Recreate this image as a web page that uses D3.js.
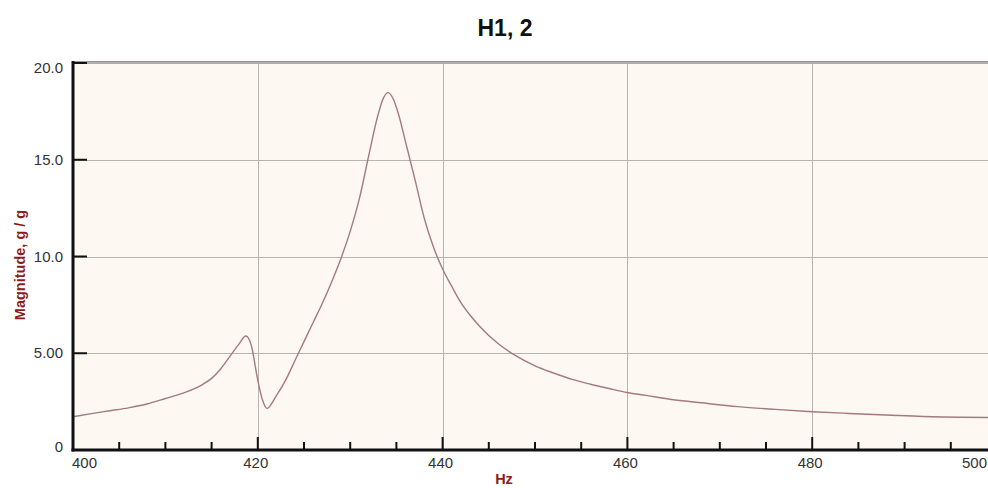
<!DOCTYPE html>
<html>
<head>
<meta charset="utf-8">
<script src="https://cdn.jsdelivr.net/npm/d3@7"></script>
<style>
  html, body { margin: 0; padding: 0; background: #ffffff; }
  svg { display: block; font-family: "Liberation Sans", Arial, sans-serif; }
</style>
</head>
<body>
<svg id="chart" width="988" height="488"></svg>
<script>
// Frequency response magnitude H1,2 (g/g) versus frequency (Hz)
const freqHz = [
  400, 402, 404, 406, 408, 410, 412, 414, 415, 416, 417, 418, 418.7, 419.3,
  420, 420.5, 421, 422, 423, 424, 425, 426, 427, 428, 429, 430, 431, 432, 433,
  433.6, 434.1, 434.7, 435.2, 436, 437, 438, 439, 440, 441, 442, 443, 444, 446,
  448, 450, 452, 454, 456, 458, 460, 462, 465, 468, 472, 476, 480, 484, 488,
  492, 496, 500
];
const magnitude = [
  1.72, 1.88, 2.03, 2.18, 2.38, 2.66, 2.95, 3.38, 3.70, 4.20, 4.85, 5.50, 5.89, 5.40,
  3.60, 2.60, 2.15, 2.80, 3.60, 4.60, 5.60, 6.60, 7.60, 8.70, 9.90, 11.30, 13.00, 15.20, 17.30,
  18.20, 18.47, 18.10, 17.40, 15.90, 14.00, 12.00, 10.50, 9.35, 8.45, 7.60, 6.95, 6.40, 5.50,
  4.85, 4.35, 3.98, 3.65, 3.40, 3.18, 2.97, 2.82, 2.60, 2.44, 2.24, 2.10, 1.98, 1.89, 1.81,
  1.73, 1.69, 1.68
];
const xMajorTicks = [400, 420, 440, 460, 480, 500];
const xMinorTicks = [405, 410, 415, 425, 430, 435, 445, 450, 455, 465, 470, 475, 485, 490, 495];
const yTicks = [0, 5, 10, 15, 20];
const yTickLabels = ["0", "5.00", "10.0", "15.0", "20.0"];

const svg = d3.select("#chart");
const plotLeft = 73, plotRight = 997, plotTop = 63, plotBottom = 450;

const x = d3.scaleLinear().domain([400, 500]).range([plotLeft, plotRight]);
const y = d3.scaleLinear().domain([0, 20]).range([plotBottom, plotTop]);

// plot background
svg.append("rect")
  .attr("x", plotLeft).attr("y", plotTop)
  .attr("width", plotRight - plotLeft).attr("height", plotBottom - plotTop)
  .attr("fill", "#fdf9f2");

// grid lines
const grid = svg.append("g").attr("stroke", "#b9b5ae").attr("stroke-width", 1);
xMajorTicks.slice(1).forEach(v => {
  grid.append("line")
    .attr("x1", Math.round(x(v)) + 0.5).attr("x2", Math.round(x(v)) + 0.5)
    .attr("y1", plotTop).attr("y2", plotBottom);
});
yTicks.slice(1, -1).forEach(v => {
  grid.append("line")
    .attr("x1", plotLeft).attr("x2", plotRight)
    .attr("y1", Math.round(y(v)) + 0.5).attr("y2", Math.round(y(v)) + 0.5);
});

// top frame line
svg.append("line")
  .attr("x1", plotLeft).attr("x2", plotRight)
  .attr("y1", plotTop - 0.5).attr("y2", plotTop - 0.5)
  .attr("stroke", "#9a9894").attr("stroke-width", 3);
svg.append("line")
  .attr("x1", plotLeft).attr("x2", plotRight)
  .attr("y1", plotTop).attr("y2", plotTop)
  .attr("stroke", "#c8c6c2").attr("stroke-width", 1);

// response curve
const line = d3.line()
  .x((d, i) => x(freqHz[i]))
  .y(d => y(d))
  .curve(d3.curveMonotoneX);
svg.append("path")
  .datum(magnitude)
  .attr("d", line)
  .attr("fill", "none")
  .attr("stroke", "#a47a7c")
  .attr("stroke-width", 1.4);

// axes (thick black left and bottom lines)
const axes = svg.append("g").attr("stroke", "#111");
axes.append("line")
  .attr("x1", plotLeft).attr("x2", plotLeft)
  .attr("y1", plotTop - 2).attr("y2", plotBottom + 1.5)
  .attr("stroke-width", 3);
axes.append("line")
  .attr("x1", plotLeft - 1.5).attr("x2", 988)
  .attr("y1", plotBottom).attr("y2", plotBottom)
  .attr("stroke-width", 3);

// y ticks
yTicks.forEach(v => {
  axes.append("line")
    .attr("x1", plotLeft).attr("x2", plotLeft + 14)
    .attr("y1", y(v)).attr("y2", y(v))
    .attr("stroke-width", 2);
});
// x ticks
xMajorTicks.forEach(v => {
  axes.append("line")
    .attr("x1", x(v)).attr("x2", x(v))
    .attr("y1", plotBottom).attr("y2", plotBottom - 13)
    .attr("stroke-width", 2);
});
xMinorTicks.forEach(v => {
  axes.append("line")
    .attr("x1", x(v)).attr("x2", x(v))
    .attr("y1", plotBottom).attr("y2", plotBottom - 8)
    .attr("stroke-width", 2);
});

// y tick labels
yTicks.forEach((v, i) => {
  let yy = y(v) + 5;
  if (v === 20) yy = y(v) + 10;
  if (v === 0) yy = y(v) + 2;
  svg.append("text")
    .attr("x", plotLeft - 10).attr("y", yy)
    .attr("text-anchor", "end")
    .attr("font-size", 15)
    .attr("fill", "#333")
    .text(yTickLabels[i]);
});

// x tick labels
xMajorTicks.forEach((v, i) => {
  const t = svg.append("text")
    .attr("y", plotBottom + 18)
    .attr("font-size", 15)
    .attr("fill", "#333")
    .text(String(v));
  if (i === 0) t.attr("x", x(v) - 1).attr("text-anchor", "start");
  else if (i === xMajorTicks.length - 1) t.attr("x", 987).attr("text-anchor", "end");
  else t.attr("x", x(v) - 2).attr("text-anchor", "middle");
});

// title
svg.append("text")
  .attr("x", 505).attr("y", 36)
  .attr("text-anchor", "middle")
  .attr("font-size", 23).attr("font-weight", "bold")
  .attr("fill", "#111")
  .text("H1, 2");

// axis titles
svg.append("text")
  .attr("transform", "translate(25,265) rotate(-90)")
  .attr("text-anchor", "middle")
  .attr("font-size", 14.5).attr("font-weight", "bold")
  .attr("fill", "#8b1c1c")
  .text("Magnitude, g / g");

svg.append("text")
  .attr("x", 504).attr("y", 484)
  .attr("text-anchor", "middle")
  .attr("font-size", 14.5).attr("font-weight", "bold")
  .attr("fill", "#8b1c1c")
  .text("Hz");
</script>
</body>
</html>
